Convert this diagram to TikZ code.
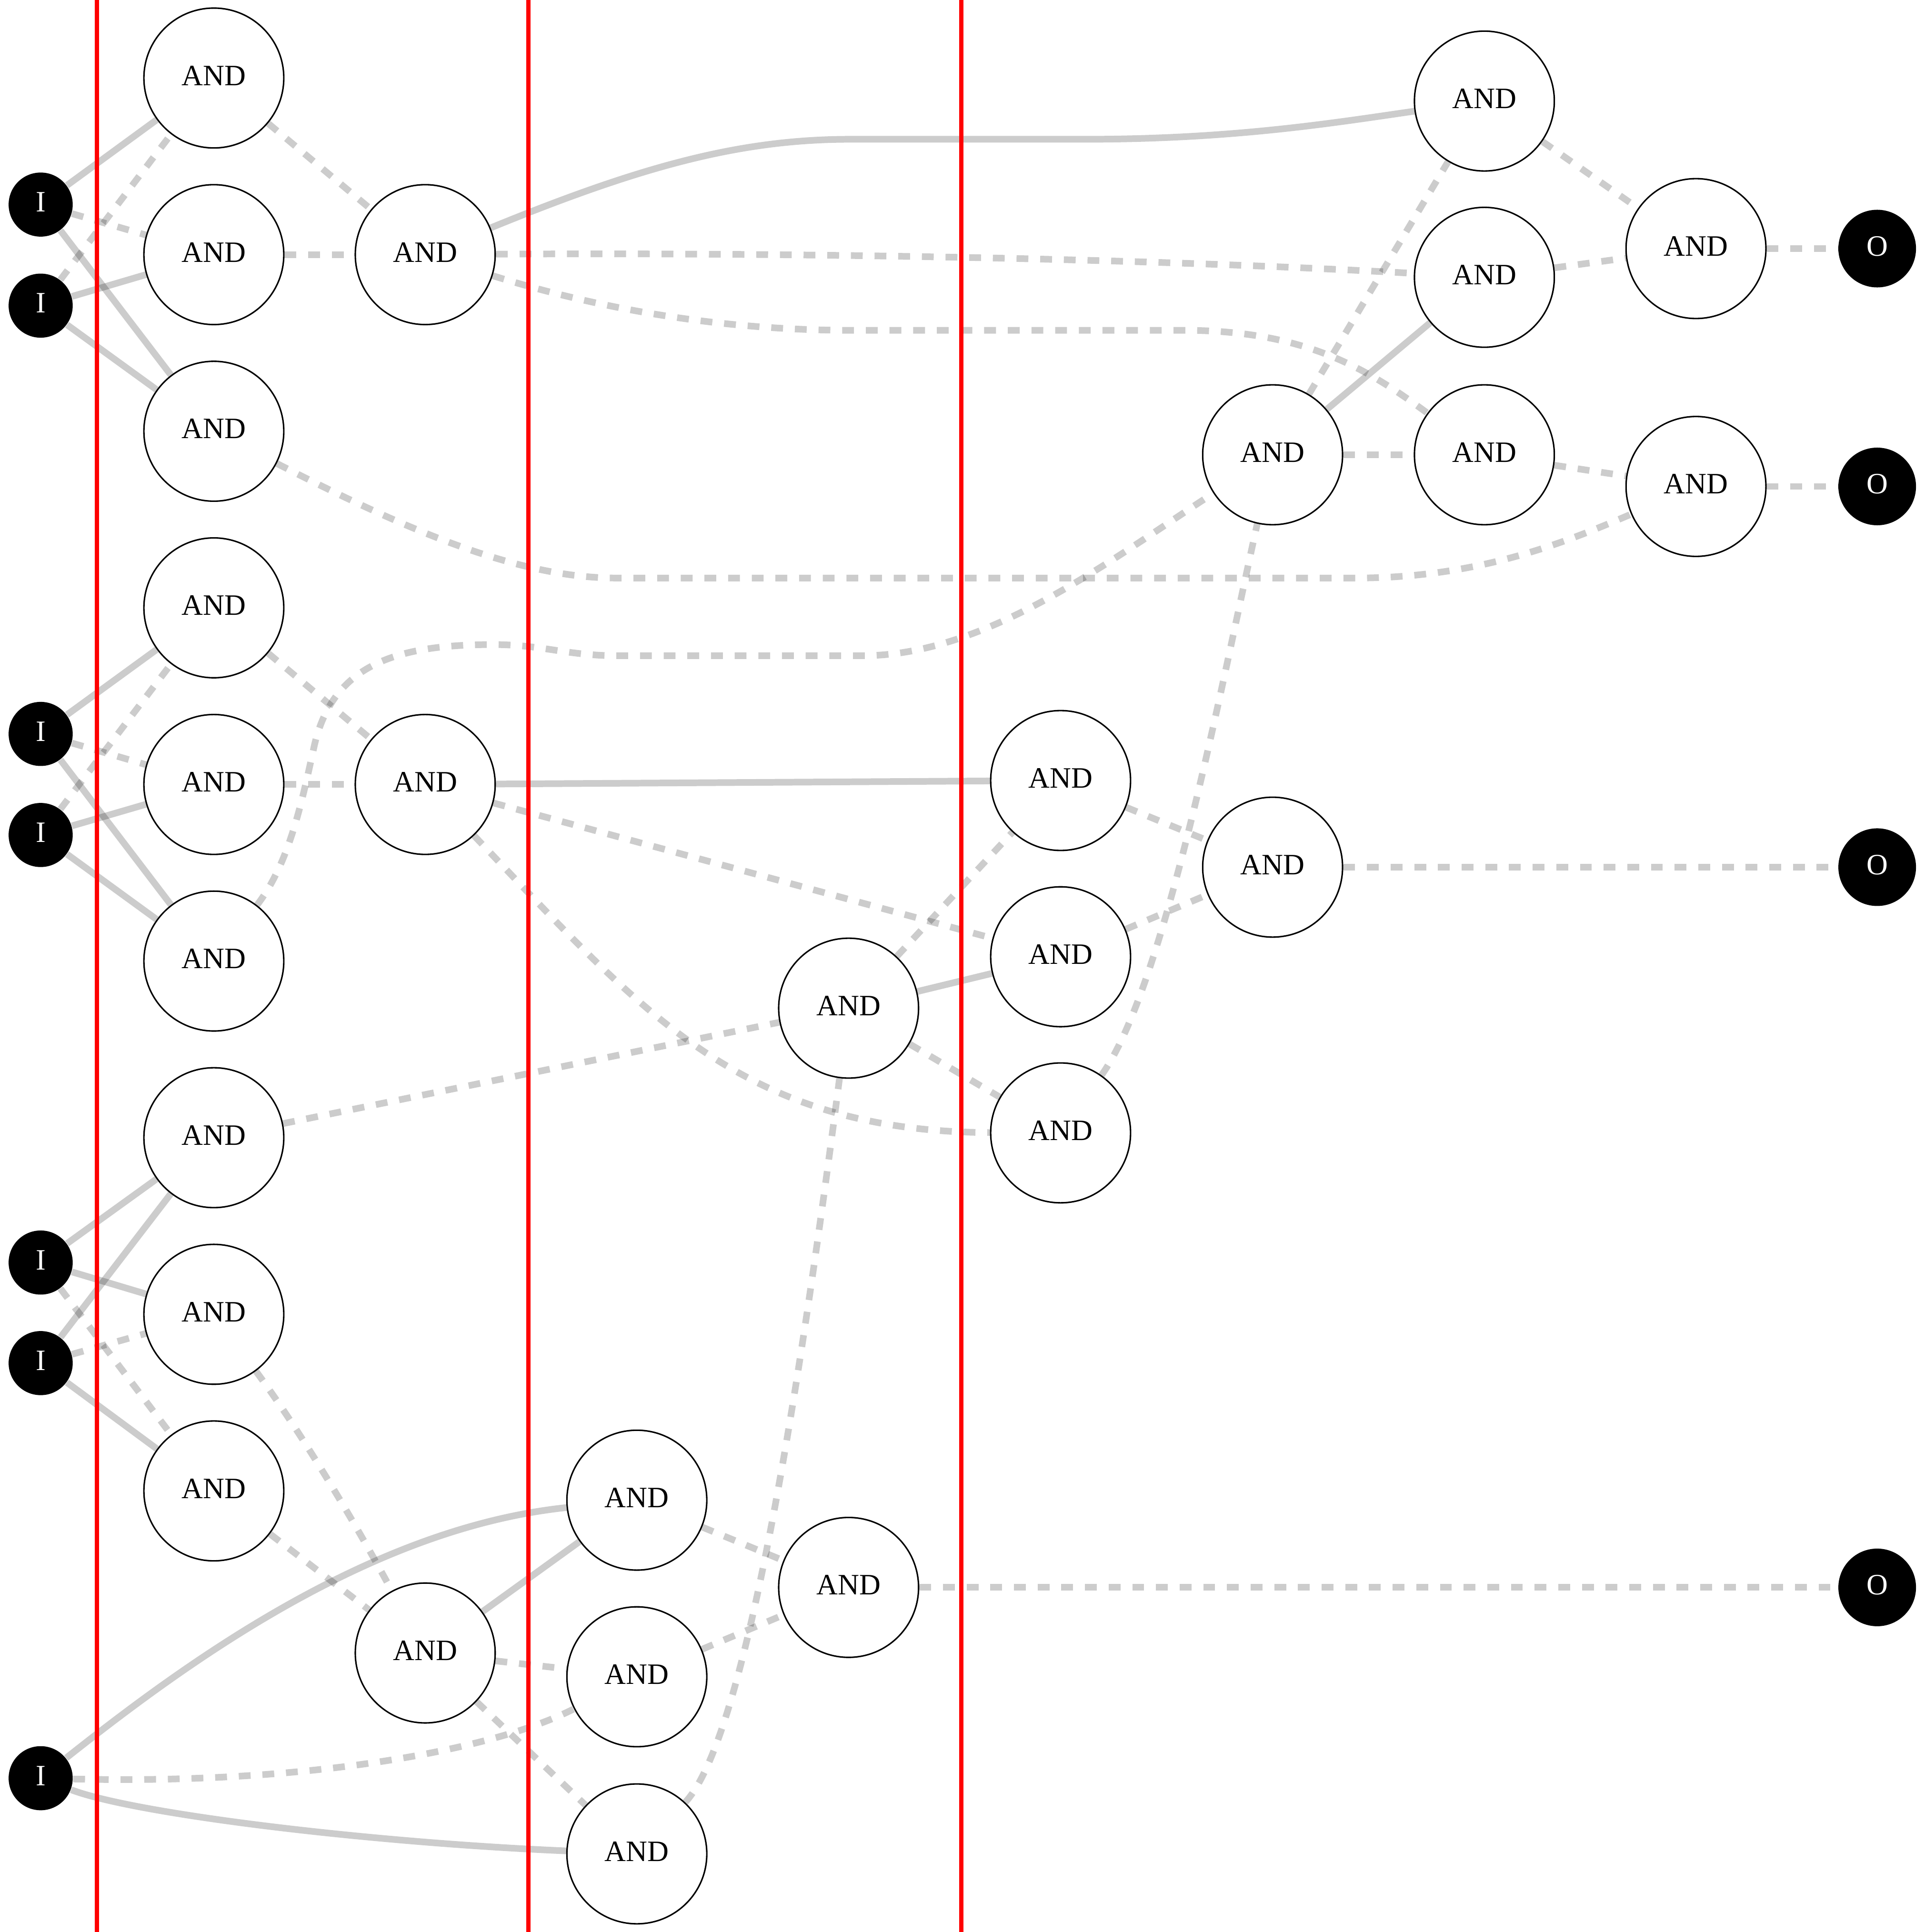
\documentclass[tikz,border=0pt]{standalone}
\usepackage{fontspec}
\setmainfont{Liberation Serif}
\pgfdeclarelayer{bg}
\pgfsetlayers{bg,main}
\begin{document}
\begin{tikzpicture}[x=0.5pt,y=-0.5pt,
  andn/.style={circle,draw=black,line width=0.6pt,fill=white,minimum size=56.75pt,inner sep=0pt,text depth=2pt,font=\fontsize{12pt}{14pt}\selectfont},
  inn/.style={circle,fill=black,text=white,minimum size=26pt,inner sep=0pt,text depth=2pt,font=\fontsize{12pt}{14pt}\selectfont},
  outn/.style={circle,fill=black,text=white,minimum size=31.5pt,inner sep=0pt,text depth=2pt,font=\fontsize{12pt}{14pt}\selectfont},
  wire/.style={draw=black,draw opacity=0.2,line width=2.7pt},
  dwire/.style={wire,dash pattern=on 4.8pt off 4.8pt},
  cutline/.style={draw=red,line width=1.75pt}]
\useasboundingbox (0,0) rectangle (1561.5,1567.6);
% inputs
\node[inn] (i1) at (33,166) {I};
\node[inn] (i2) at (33,248) {I};
\node[inn] (i3) at (33,595.5) {I};
\node[inn] (i4) at (33,677.5) {I};
\node[inn] (i5) at (33,1024.4) {I};
\node[inn] (i6) at (33,1106) {I};
\node[inn] (i7) at (33,1442.8) {I};
% column 1
\node[andn] (a1) at (173.5,63.3) {AND};
\node[andn] (a2) at (173.5,206.6) {AND};
\node[andn] (a3) at (173.5,349.9) {AND};
\node[andn] (a4) at (173.5,493.2) {AND};
\node[andn] (a5) at (173.5,636.5) {AND};
\node[andn] (a6) at (173.5,779.8) {AND};
\node[andn] (a7) at (173.5,923.1) {AND};
\node[andn] (a8) at (173.5,1066.4) {AND};
\node[andn] (a9) at (173.5,1209.7) {AND};
% column 2
\node[andn] (b1) at (345,206.6) {AND};
\node[andn] (b2) at (345,636.5) {AND};
\node[andn] (c) at (345,1341.2) {AND};
% column 3
\node[andn] (c1) at (516.7,1217.2) {AND};
\node[andn] (c2) at (516.7,1360.5) {AND};
\node[andn] (c3) at (516.7,1504.2) {AND};
% column 4
\node[andn] (d1) at (688.5,818) {AND};
\node[andn] (d2) at (688.5,1288) {AND};
% column 5
\node[andn] (e1) at (860.5,633.3) {AND};
\node[andn] (e2) at (860.5,776.3) {AND};
\node[andn] (e3) at (860.5,919.2) {AND};
% column 6
\node[andn] (f1) at (1032.5,369) {AND};
\node[andn] (f2) at (1032.5,703.6) {AND};
% column 7
\node[andn] (g1) at (1204.3,82) {AND};
\node[andn] (g2) at (1204.3,225) {AND};
\node[andn] (g3) at (1204.3,369) {AND};
% column 8
\node[andn] (h1) at (1376,201.7) {AND};
\node[andn] (h2) at (1376,394.7) {AND};
% outputs
\node[outn] (o1) at (1523,201.7) {O};
\node[outn] (o2) at (1523,394.7) {O};
\node[outn] (o3) at (1523,703.6) {O};
\node[outn] (o4) at (1523,1288) {O};
% cut lines
\coordinate (r1t) at (78.5,0);    \coordinate (r1b) at (78.5,1567.6);
\coordinate (r2t) at (428.8,0);   \coordinate (r2b) at (428.8,1567.6);
\coordinate (r3t) at (780,0);     \coordinate (r3b) at (780,1567.6);
\begin{pgfonlayer}{bg}
% group 1
\draw[wire] (i1) -- (a1);
\draw[dwire] (i1) -- (a2);
\draw[wire] (i1) -- (a3);
\draw[dwire] (i2) -- (a1);
\draw[wire] (i2) -- (a2);
\draw[wire] (i2) -- (a3);
% group 2
\draw[wire] (i3) -- (a4);
\draw[dwire] (i3) -- (a5);
\draw[wire] (i3) -- (a6);
\draw[dwire] (i4) -- (a4);
\draw[wire] (i4) -- (a5);
\draw[wire] (i4) -- (a6);
% group 3
\draw[wire] (i5) -- (a7);
\draw[wire] (i5) -- (a8);
\draw[dwire] (i5) -- (a9);
\draw[wire] (i6) -- (a7);
\draw[dwire] (i6) -- (a8);
\draw[wire] (i6) -- (a9);
% column 1 -> 2
\draw[dwire] (a1) -- (b1);
\draw[dwire] (a2) -- (b1);
\draw[dwire] (a4) -- (b2);
\draw[dwire] (a5) -- (b2);
\draw[dwire] (a3) .. controls (330,430) and (420,469) .. (500,469) -- (1100,469) .. controls (1200,469) and (1270,440) .. (h2);
\draw[dwire] (a6) .. controls (235,700) and (245,650) .. (255,605) .. controls (270,540) and (320,523) .. (400,523) .. controls (440,523) and (460,532) .. (500,532) -- (700,532) .. controls (800,532) and (900,455) .. (f1);
\draw[dwire] (a7) -- (d1);
\draw[dwire] (a8) .. controls (245,1163) and (290,1239) .. (c);
\draw[dwire] (a9) -- (c);
% from b1
\draw[wire] (b1) .. controls (520,135) and (600,113) .. (690,113) -- (880,113) .. controls (1000,113) and (1080,100) .. (g1);
\draw[dwire] (b1) .. controls (600,205) and (900,208) .. (g2);
\draw[dwire] (b1) .. controls (500,255) and (600,268) .. (690,268) -- (960,268) .. controls (1060,268) and (1110,300) .. (g3);
% top right
\draw[dwire] (g1) -- (h1);
\draw[dwire] (g2) -- (h1);
\draw[dwire] (g3) -- (h2);
\draw[dwire] (h1) -- (o1);
\draw[dwire] (h2) -- (o2);
\draw[dwire] (f1) -- (g1);
\draw[wire] (f1) -- (g2);
\draw[dwire] (f1) -- (g3);
% from b2
\draw[wire] (b2) -- (e1);
\draw[dwire] (b2) -- (e2);
\draw[dwire] (b2) .. controls (520,820) and (600,918) .. (e3);
\draw[dwire] (e1) -- (f2);
\draw[dwire] (e2) -- (f2);
\draw[dwire] (f2) -- (o3);
\draw[dwire] (d1) -- (e1);
\draw[wire] (d1) -- (e2);
\draw[dwire] (d1) -- (e3);
\draw[dwire] (e3) .. controls (945,800) and (990,560) .. (f1);
% bottom
\draw[wire] (c) -- (c1);
\draw[dwire] (c) -- (c2);
\draw[dwire] (c) -- (c3);
\draw[wire] (i7) .. controls (150,1350) and (300,1240) .. (c1);
\draw[dwire] (i7) .. controls (250,1448) and (400,1420) .. (c2);
\draw[wire] (i7) .. controls (110,1472) and (300,1495) .. (c3);
\draw[dwire] (c1) -- (d2);
\draw[dwire] (c2) -- (d2);
\draw[dwire] (c3) .. controls (605,1410) and (648,1130) .. (d1);
\draw[dwire] (d2) -- (o4);
\end{pgfonlayer}
\draw[cutline] (r1t) -- (r1b);
\draw[cutline] (r2t) -- (r2b);
\draw[cutline] (r3t) -- (r3b);
\end{tikzpicture}
\end{document}
